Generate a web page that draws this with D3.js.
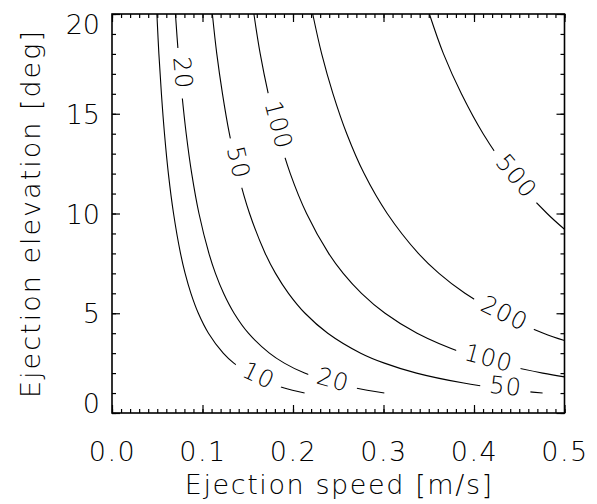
<!DOCTYPE html>
<html>
<head>
<meta charset="utf-8">
<script src="https://cdn.jsdelivr.net/npm/d3@7"></script>
<style>
  body { margin: 0; background: #fff; }
  text { font-family: 'DejaVu Sans ExtraLight', 'DejaVu Sans'; font-weight: 200; }
</style>
</head>
<body>
<svg id="chart" width="597" height="504"></svg>
<script>
// contour lines: [speed m/s, elevation deg]
const contour10 = [[0.0496,20],[0.0518,18],[0.0546,16],[0.0580,14],[0.0623,12],[0.0680,10],[0.0757,8],[0.0808,7],[0.0872,6],[0.0954,5],[0.1066,4],[0.1229,3],[0.1346,2.5],[0.1505,2],[0.1738,1.5],[0.1903,1.25],[0.2128,1]];
const contour20 = [[0.0701,20],[0.0733,18],[0.0772,16],[0.0820,14],[0.0881,12],[0.0961,10],[0.1071,8],[0.1143,7],[0.1233,6],[0.1349,5],[0.1507,4],[0.1739,3],[0.1904,2.5],[0.2128,2],[0.2457,1.5],[0.2692,1.25],[0.3009,1]];
const contour50 = [[0.1109,20],[0.1158,18],[0.1221,16],[0.1297,14],[0.1393,12],[0.1520,10],[0.1693,8],[0.1807,7],[0.1950,6],[0.2133,5],[0.2384,4],[0.2748,3],[0.3010,2.5],[0.3365,2],[0.3886,1.5],[0.4255,1.25],[0.4758,1]];
const contour100 = [[0.1568,20],[0.1638,18],[0.1727,16],[0.1834,14],[0.1970,12],[0.2150,10],[0.2394,8],[0.2555,7],[0.2757,6],[0.3017,5],[0.3371,4],[0.3886,3],[0.4256,2.5],[0.4759,2],[0.5,1.81]];
const contour200 = [[0.2218,20],[0.2317,18],[0.2442,16],[0.2594,14],[0.2786,12],[0.3041,10],[0.3385,8],[0.3613,7],[0.3900,6],[0.4266,5],[0.4767,4],[0.5,3.63]];
const contour500 = [[0.3507,20],[0.3663,18],[0.3861,16],[0.4101,14],[0.4405,12],[0.4808,10],[0.5,9.21]];

const levels = [10, 20, 50, 100, 200, 500];
const contours = [contour10, contour20, contour50, contour100, contour200, contour500];

// where the labels sit: level and elevation along that line
const labelLevels = [20, 50, 100, 500, 200, 100, 50, 20, 10];
const labelElev = [17.03, 12.52, 14.4, 11.79, 4.87, 2.62, 1.2, 1.53, 1.76];

const xTicks = [0, 0.1, 0.2, 0.3, 0.4, 0.5];
const yTicks = [0, 5, 10, 15, 20];

const svg = d3.select('#chart');
const margin = {top: 14, right: 32.5, bottom: 91, left: 112};
const width = 597 - margin.left - margin.right;
const height = 504 - margin.top - margin.bottom;

const g = svg.append('g').attr('transform', `translate(${margin.left},${margin.top})`);

const x = d3.scaleLinear().domain([0, 0.5]).range([0, width]);
const y = d3.scaleLinear().domain([0, 20]).range([height, 0]);

const line = d3.line()
  .x(d => x(d[0]))
  .y(d => y(d[1]))
  .curve(d3.curveCatmullRom);

// contour lines
const paths = {};
levels.forEach((lv, i) => {
  paths[lv] = g.append('path')
    .datum(contours[i])
    .attr('fill', 'none')
    .attr('stroke', '#000')
    .attr('stroke-width', 1.1)
    .attr('d', line)
    .node();
});

// contour labels with a gap cut in the line
const labelG = g.append('g');
labelLevels.forEach((lv, i) => {
  const p = paths[lv];
  const total = p.getTotalLength();
  const ty = y(labelElev[i]);
  let lo = 0, hi = total;
  for (let k = 0; k < 40; k++) {
    const mid = (lo + hi) / 2;
    if (p.getPointAtLength(mid).y < ty) lo = mid; else hi = mid;
  }
  const L = (lo + hi) / 2;
  const pt = p.getPointAtLength(L);
  const a = p.getPointAtLength(Math.max(0, L - 3));
  const b = p.getPointAtLength(Math.min(total, L + 3));
  const ang = Math.atan2(b.y - a.y, b.x - a.x) * 180 / Math.PI;
  const lg = labelG.append('g').attr('transform', `translate(${pt.x},${pt.y}) rotate(${ang})`);
  const rect = lg.append('rect').attr('fill', '#fff');
  const t = lg.append('text')
    .attr('text-anchor', 'middle')
    .attr('dy', '0.22em')
    .attr('font-size', '24px')
    .attr('letter-spacing', '1px')
    .text(lv);
  const bb = t.node().getBBox();
  rect.attr('x', -bb.width / 2 - 9).attr('y', -9).attr('width', bb.width + 18).attr('height', 18);
});

// axes, ticks inward on all four sides
const major = 8, minor = 4;
const xMinor = d3.range(0, 51).map(d => d / 100);
const yMinor = d3.range(0, 21);

g.append('g')
  .attr('transform', `translate(0,${height})`)
  .call(d3.axisBottom(x).tickValues(xMinor).tickSize(-minor).tickFormat(''))
  .call(a => a.select('.domain').remove());
g.append('g')
  .attr('transform', `translate(0,${height})`)
  .call(d3.axisBottom(x).tickValues(xTicks).tickSize(-major).tickFormat(d3.format('.1f')))
  .call(a => a.select('.domain').remove())
  .call(a => a.selectAll('text').attr('font-size', '27px').attr('letter-spacing', '1.5px').attr('dy', '0').attr('y', 48));

g.append('g')
  .call(d3.axisTop(x).tickValues(xMinor).tickSize(-minor).tickFormat(''))
  .call(a => a.select('.domain').remove());
g.append('g')
  .call(d3.axisTop(x).tickValues(xTicks).tickSize(-major).tickFormat(''))
  .call(a => a.select('.domain').remove());

g.append('g')
  .call(d3.axisLeft(y).tickValues(yMinor).tickSize(-minor).tickFormat(''))
  .call(a => a.select('.domain').remove());
g.append('g')
  .call(d3.axisLeft(y).tickValues(yTicks).tickSize(-major).tickFormat(d3.format('d')))
  .call(a => a.select('.domain').remove())
  .call(a => a.selectAll('text')
    .attr('font-size', '27px')
    .attr('x', -12)
    .attr('dy', '0.36em')
    .attr('transform', d => {
      const shift = Math.max(10, Math.min(height - 10, y(d))) - y(d);
      return `translate(0,${shift})`;
    }));

g.append('g')
  .attr('transform', `translate(${width},0)`)
  .call(d3.axisRight(y).tickValues(yMinor).tickSize(-minor).tickFormat(''))
  .call(a => a.select('.domain').remove());
g.append('g')
  .attr('transform', `translate(${width},0)`)
  .call(d3.axisRight(y).tickValues(yTicks).tickSize(-major).tickFormat(''))
  .call(a => a.select('.domain').remove());

g.selectAll('.tick line').attr('stroke', '#000').attr('stroke-width', 1.2);
g.selectAll('.tick text').attr('fill', '#000').attr('font-family', null);

// frame
g.append('rect')
  .attr('width', width).attr('height', height)
  .attr('fill', 'none').attr('stroke', '#000').attr('stroke-width', 1.6);

// axis titles
svg.append('text')
  .attr('x', margin.left + width / 2 + 1)
  .attr('y', 494)
  .attr('text-anchor', 'middle')
  .attr('font-size', '27px')
  .attr('letter-spacing', '1.6px')
  .text('Ejection speed [m/s]');

svg.append('text')
  .attr('transform', `translate(40,${margin.top + height / 2}) rotate(-90)`)
  .attr('text-anchor', 'middle')
  .attr('font-size', '27px')
  .attr('letter-spacing', '2px')
  .text('Ejection elevation [deg]');
</script>
</body>
</html>
